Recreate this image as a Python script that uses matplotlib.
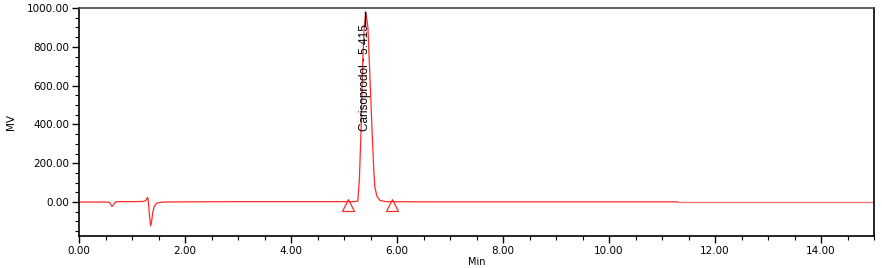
import matplotlib.pyplot as plt
from matplotlib.ticker import MultipleLocator, FormatStrFormatter

# trace (time in min, signal in MV)
time = [0.00, 0.30, 0.55, 0.58, 0.60, 0.62, 0.64, 0.67, 0.70, 0.80, 1.00,
        1.20, 1.25, 1.27, 1.29, 1.30, 1.31, 1.33, 1.35, 1.37, 1.39, 1.42,
        1.46, 1.50, 1.60, 2.00, 3.00, 4.00, 5.00, 5.20, 5.26, 5.29, 5.32,
        5.35, 5.38, 5.415, 5.45, 5.48, 5.53, 5.56, 5.58, 5.62, 5.68, 5.80,
        6.50, 8.00, 10.00, 11.30, 13.00, 15.00]
signal = [0, 0, 0, -4, -12, -23, -18, -6, 2, 2, 2,
          3, 6, 12, 24, 18, -5, -70, -123, -100, -55, -22,
          -8, -3, 0, 1, 2, 2, 2, 2, 5, 120, 360,
          705, 900, 975, 900, 705, 360, 170, 80, 30, 8, 2,
          1, 1, 1, 1, 1, 1]

peak_name = "Carisoprodol"
peak_rt = 5.415
peak_top = 985
label_base = 367
label_top = 906

# integration start/end markers
marks_x = [5.08, 5.90]
marks_y = [-17, -17]

fig = plt.figure(figsize=(8.82, 2.68), dpi=100)
ax = fig.add_axes([0.0896, 0.1194, 0.9014, 0.8506])

split = time.index(11.30)
ax.plot(time[:split + 1], signal[:split + 1], color="#ff2a2a", lw=0.9)
ax.plot(time[split:], signal[split:], color="#ff6a6a", lw=0.9)
ax.plot(marks_x, marks_y, ls="none", marker="^", ms=8, mfc="none",
        mec="#ff2a2a", mew=0.9)

ax.vlines(peak_rt - 0.02, label_top, peak_top, color="black", lw=1.0)
ax.text(peak_rt - 0.02, label_base, f"{peak_name} - {peak_rt:.3f}",
        rotation=90, ha="center", va="bottom", fontsize=8.5,
        family=["Liberation Sans", "DejaVu Sans"])

ax.set_xlim(0, 15)
ax.set_ylim(-175, 1000)
ax.xaxis.set_major_locator(MultipleLocator(2))
ax.xaxis.set_minor_locator(MultipleLocator(0.5))
ax.yaxis.set_major_locator(MultipleLocator(200))
ax.yaxis.set_minor_locator(MultipleLocator(50))
ax.xaxis.set_major_formatter(FormatStrFormatter("%.2f"))
ax.yaxis.set_major_formatter(FormatStrFormatter("%.2f"))
ax.tick_params(which="major", direction="out", length=5, width=1.0,
               labelsize=7.5, pad=2)
ax.tick_params(which="minor", direction="out", length=3, width=0.8)
for s in ax.spines.values():
    s.set_linewidth(1.2)
ax.spines["top"].set_color("#444444")

ax.set_xlabel("Min", fontsize=7, labelpad=1)
ax.set_ylabel("MV", fontsize=7.5, labelpad=8)

fig.savefig("out.png", dpi=100)
